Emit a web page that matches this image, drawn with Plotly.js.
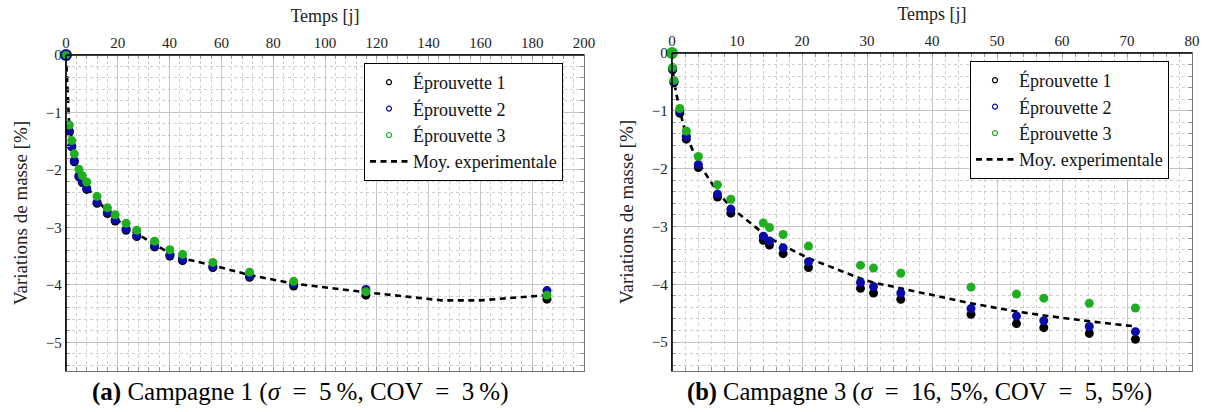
<!DOCTYPE html>
<html>
<head>
<meta charset="utf-8">
<script src="https://cdn.plot.ly/plotly-3.0.1.min.js"></script>
<style>
  html, body { margin: 0; padding: 0; background: #ffffff; }
  #chart { width: 1205px; height: 412px; }
</style>
</head>
<body>
<div id="chart"></div>
<script>
// ---------- Campagne 1 (left) ----------
const tempsA = [0, 1.3, 2.2, 3.2, 5, 6.3, 8, 12, 16, 19, 23.2, 27.3, 34.2, 40.1, 45, 56.7, 70.9, 87.9, 115.8, 185.7];
const eprouvette1A = [0, -1.34, -1.60, -1.86, -2.12, -2.22, -2.34, -2.58, -2.76, -2.89, -3.05, -3.16, -3.34, -3.50, -3.58, -3.70, -3.87, -4.02, -4.18, -4.25];
const eprouvette2A = [0, -1.32, -1.58, -1.84, -2.10, -2.20, -2.32, -2.56, -2.74, -2.87, -3.03, -3.14, -3.32, -3.48, -3.56, -3.68, -3.85, -3.99, -4.08, -4.10];
const eprouvette3A = [0, -1.22, -1.49, -1.72, -1.99, -2.10, -2.21, -2.46, -2.66, -2.78, -2.93, -3.05, -3.24, -3.39, -3.47, -3.61, -3.78, -3.94, -4.12, -4.18];
const tempsMoyA = [0, 1.3, 2.2, 3.2, 5, 6.3, 8, 12, 16, 19, 23.2, 27.3, 34.2, 40.1, 45, 56.7, 70.9, 87.9, 115.8, 145, 160, 185.7];
const moyA = [0, -1.29, -1.56, -1.80, -2.07, -2.17, -2.29, -2.53, -2.72, -2.84, -3.00, -3.11, -3.30, -3.45, -3.54, -3.66, -3.83, -3.98, -4.13, -4.27, -4.27, -4.18];

// ---------- Campagne 3 (right) ----------
const tempsB = [0, 0.1, 0.3, 1.2, 2.2, 4.05, 7, 9.05, 14.05, 15, 17.1, 21, 29, 31, 35.2, 46, 53, 57.2, 64.2, 71.3];
const eprouvette1B = [0, -0.29, -0.51, -1.04, -1.49, -1.98, -2.49, -2.77, -3.24, -3.32, -3.47, -3.71, -4.07, -4.15, -4.26, -4.52, -4.68, -4.75, -4.85, -4.95];
const eprouvette2B = [0, -0.27, -0.49, -1.00, -1.44, -1.93, -2.44, -2.70, -3.17, -3.25, -3.37, -3.61, -3.97, -4.04, -4.15, -4.42, -4.55, -4.63, -4.73, -4.82];
const eprouvette3B = [0, -0.25, -0.47, -0.96, -1.35, -1.79, -2.28, -2.53, -2.94, -3.02, -3.14, -3.34, -3.67, -3.72, -3.81, -4.05, -4.17, -4.24, -4.33, -4.41];
const moyB = [0, -0.27, -0.49, -1.00, -1.43, -1.90, -2.40, -2.67, -3.12, -3.20, -3.33, -3.55, -3.90, -3.97, -4.07, -4.33, -4.47, -4.54, -4.64, -4.73];

// ---------- Labels ----------
const seriesNames = ['Éprouvette 1', 'Éprouvette 2', 'Éprouvette 3', 'Moy. experimentale'];
const xTitle = 'Temps [j]';
const yTitle = 'Variations de masse [%]';
const captionA = '<b>(a)</b> Campagne 1 (<i>σ</i>\u2002=\u20025\u2009%, COV\u2002=\u20023\u2009%)';
const captionB = '<b>(b)</b> Campagne 3 (<i>σ</i>\u2002=\u200216,\u20045%, COV\u2002=\u20025,\u20045%)';

const colors = ['#000000', '#0a0aa8', '#1fae1f'];
const FONT = '"Liberation Serif", "Times New Roman", serif';

function sizes(arr, first) { return arr.map((_, i) => i === 0 ? first : 9); }

function buildTraces(xa, ya, leg, tPts, tMoy, s1, s2, s3, moy, firstSizes) {
  const out = [];
  out.push({x: tMoy, y: moy, xaxis: xa, yaxis: ya, mode: 'lines', showlegend: false, cliponaxis: false,
            line: {color: '#000', width: 2.6, dash: '6px,4.5px'}, hoverinfo: 'skip'});
  [s1, s2, s3].forEach((s, k) => {
    out.push({x: tPts, y: s, xaxis: xa, yaxis: ya, mode: 'markers', showlegend: false, cliponaxis: false,
              marker: {symbol: 'circle', size: sizes(s, firstSizes[k]), opacity: 1, color: colors[k], line: {width: 0}}});
  });
  // legend entries
  [0, 1, 2].forEach(k => {
    out.push({x: [null], y: [null], xaxis: xa, yaxis: ya, mode: 'markers', name: seriesNames[k],
              legend: leg, legendgroup: leg + k, showlegend: true,
              marker: {symbol: 'circle-open', size: 5, opacity: 1, color: colors[k], line: {width: 1.2, color: colors[k]}}});
  });
  out.push({x: [null], y: [null], xaxis: xa, yaxis: ya, mode: 'lines', name: seriesNames[3],
            legend: leg, legendgroup: leg + 3, showlegend: true,
            line: {color: '#000', width: 2.6, dash: '6px,4.5px'}});
  return out;
}

const traces = [].concat(
  buildTraces('x', 'y', 'legend', tempsA, tempsMoyA, eprouvette1A, eprouvette2A, eprouvette3A, moyA, [9, 12, 8]),
  buildTraces('x2', 'y2', 'legend2', tempsB, tempsB, eprouvette1B, eprouvette2B, eprouvette3B, moyB, [9, 9, 12])
);

function xAxis(domain, range, dtick, mdtick, anchor) {
  return {
    domain: domain, range: range, side: 'top', anchor: anchor,
    tick0: 0, dtick: dtick, ticks: 'inside', ticklen: 4, tickcolor: '#999', tickwidth: 1,
    showline: true, linecolor: '#777', linewidth: 1.2, mirror: 'ticks',
    showgrid: true, gridcolor: '#c6c6c6', gridwidth: 1, zeroline: false,
    minor: {dtick: mdtick, tick0: 0, ticks: 'inside', ticklen: 4, tickcolor: '#999',
            showgrid: true, gridcolor: '#cfcfcf', griddash: 'dot', gridwidth: 1},
    tickfont: {family: FONT, size: 15, color: '#222'},
    title: {text: xTitle, font: {family: FONT, size: 18, color: '#222'}, standoff: 7},
    automargin: false, fixedrange: true
  };
}
function yAxis(domain, anchor) {
  return {
    domain: domain, range: [-5.5, 0], anchor: anchor,
    tick0: 0, dtick: 1, ticks: 'inside', ticklen: 4, tickcolor: '#999', tickwidth: 1,
    showline: true, linecolor: '#777', linewidth: 1.2, mirror: 'ticks',
    showgrid: true, gridcolor: '#c6c6c6', gridwidth: 1, zeroline: false,
    minor: {dtick: 0.2, tick0: 0, ticks: 'inside', ticklen: 4, tickcolor: '#999',
            showgrid: true, gridcolor: '#cfcfcf', griddash: 'dot', gridwidth: 1},
    tickfont: {family: FONT, size: 15, color: '#222'},
    title: {text: yTitle, font: {family: FONT, size: 19, color: '#222'}, standoff: 13},
    automargin: false, fixedrange: true
  };
}

function blackEdges(xr, yr) {
  return [
    {type: 'line', xref: xr + ' domain', yref: yr + ' domain', x0: 0, x1: 0, y0: 0, y1: 1, line: {color: '#000', width: 1.6}},
    {type: 'line', xref: xr + ' domain', yref: yr + ' domain', x0: 0, x1: 1, y0: 1, y1: 1, line: {color: '#000', width: 1.6}}
  ];
}

const legendStyle = {
  xanchor: 'left', yanchor: 'top', bgcolor: '#ffffff', bordercolor: '#000', borderwidth: 1,
  font: {family: FONT, size: 18, color: '#111'}, tracegroupgap: 0, itemwidth: 38
};

const layout = {
  width: 1205, height: 412,
  margin: {l: 0, r: 0, t: 0, b: 0},
  paper_bgcolor: '#ffffff', plot_bgcolor: '#ffffff',
  font: {family: FONT},
  xaxis: xAxis([66/1205, 584/1205], [0, 200], 20, 4, 'y'),
  yaxis: yAxis([41/412, 357/412], 'x'),
  xaxis2: xAxis([672/1205, 1192/1205], [0, 80], 10, 2, 'y2'),
  yaxis2: yAxis([41/412, 359/412], 'x2'),
  legend: Object.assign({x: 364/1205, y: 349/412}, legendStyle),
  legend2: Object.assign({x: 970/1205, y: 351/412}, legendStyle),
  shapes: [].concat(blackEdges('x', 'y'), blackEdges('x2', 'y2')),
  annotations: [
    {text: captionA, xref: 'paper', yref: 'paper', x: 300/1205, y: 20/412, xanchor: 'center', yanchor: 'middle',
     showarrow: false, font: {family: FONT, size: 25, color: '#000'}},
    {text: captionB, xref: 'paper', yref: 'paper', x: 920/1205, y: 20/412, xanchor: 'center', yanchor: 'middle',
     showarrow: false, font: {family: FONT, size: 24.5, color: '#000'}}
  ],
  showlegend: true
};

Plotly.newPlot('chart', traces, layout, {displayModeBar: false, staticPlot: true});
</script>
</body>
</html>
